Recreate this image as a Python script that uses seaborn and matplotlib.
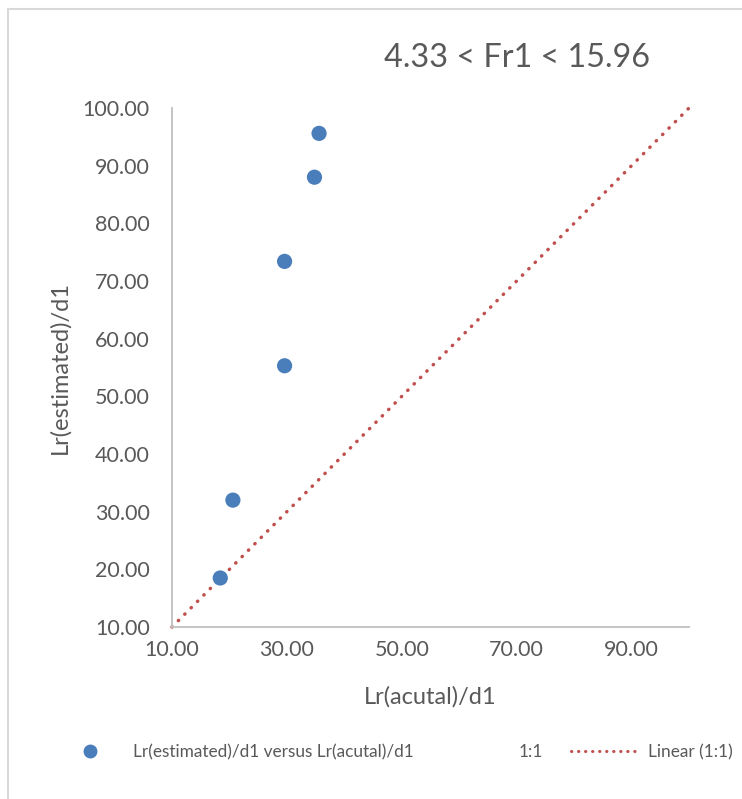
import matplotlib.pyplot as plt
import seaborn as sns
from matplotlib.lines import Line2D
from matplotlib.patches import Rectangle

# values
lr_actual = [18.4, 20.6, 29.6, 29.6, 34.8, 35.6]
lr_estimated = [18.5, 32.0, 55.3, 73.4, 88.0, 95.6]
line_x = [10, 100]
line_y = [10, 100]
x_ticks = [10, 30, 50, 70, 90]
y_ticks = [10, 20, 30, 40, 50, 60, 70, 80, 90, 100]

BLUE = "#4A7EBB"
RED = "#C0504D"
GREY_TXT = "#595959"
GREY_LINE = "#BFBFBF"

sns.set_theme(style="white")
plt.rcParams["font.family"] = ["Lato", "DejaVu Sans"]

fig = plt.figure(figsize=(7.42, 7.99), dpi=100)
ax = fig.add_axes([172 / 742, 1 - 627 / 799, 517 / 742, 519 / 799])

sns.lineplot(x=line_x, y=line_y, ax=ax, color=RED, lw=2.5,
             linestyle=(0, (0.1, 2.5)), dash_capstyle="round", clip_on=False)
sns.scatterplot(x=lr_actual, y=lr_estimated, ax=ax, color=BLUE, s=120,
                edgecolor="none", zorder=3)

ax.set_xlim(10, 100)
ax.set_ylim(10, 100)
ax.set_xticks(x_ticks)
ax.set_yticks(y_ticks)
ax.set_xticklabels([f"{v:.2f}" for v in x_ticks])
ax.set_yticklabels([f"{v:.2f}" for v in y_ticks])
ax.tick_params(axis="both", length=0, labelsize=15.5, colors=GREY_TXT)
ax.tick_params(axis="y", pad=16)
ax.tick_params(axis="x", pad=9)

for side in ["top", "right"]:
    ax.spines[side].set_visible(False)
for side in ["left", "bottom"]:
    ax.spines[side].set_color(GREY_LINE)
    ax.spines[side].set_linewidth(1.3)

ax.set_xlabel("Lr(acutal)/d1", fontsize=17, color=GREY_TXT)
ax.set_ylabel("Lr(estimated)/d1", fontsize=17, color=GREY_TXT)
ax.xaxis.set_label_coords(0.5, (627 - 697) / 519)
ax.yaxis.set_label_coords((60 - 172) / 517, 0.5)
ax.xaxis.label.set_va("center")
ax.yaxis.label.set_va("center")

fig.text(517 / 742, 1 - 58 / 799, "4.33 < Fr1 < 15.96", ha="center",
         va="center", fontsize=23.3, color=GREY_TXT)

handles = [
    Line2D([], [], marker="o", color=BLUE, linestyle="none", markersize=9),
    Line2D([], [], linestyle="none"),
    Line2D([], [], color=RED, lw=2.2, linestyle=(0, (0.1, 2.2)),
           dash_capstyle="round"),
]
labels = ["Lr(estimated)/d1 versus Lr(acutal)/d1", "1:1", "Linear (1:1)"]
leg = fig.legend(handles, labels, loc="center left", ncol=3, frameon=False,
                 bbox_to_anchor=(47 / 742, 1 - 752 / 799), borderpad=0,
                 fontsize=12.4, handlelength=4.0, handletextpad=0.47,
                 columnspacing=1.63)
for t in leg.get_texts():
    t.set_color(GREY_TXT)

# light chart-area border (left and top edges visible in the crop)
fig.patches.append(Rectangle((8 / 742, -0.05), 1.2, 1.05 - 9 / 799,
                             transform=fig.transFigure, fill=False,
                             edgecolor="#D9D9D9", lw=1.5))

fig.savefig("out.png", dpi=100)
